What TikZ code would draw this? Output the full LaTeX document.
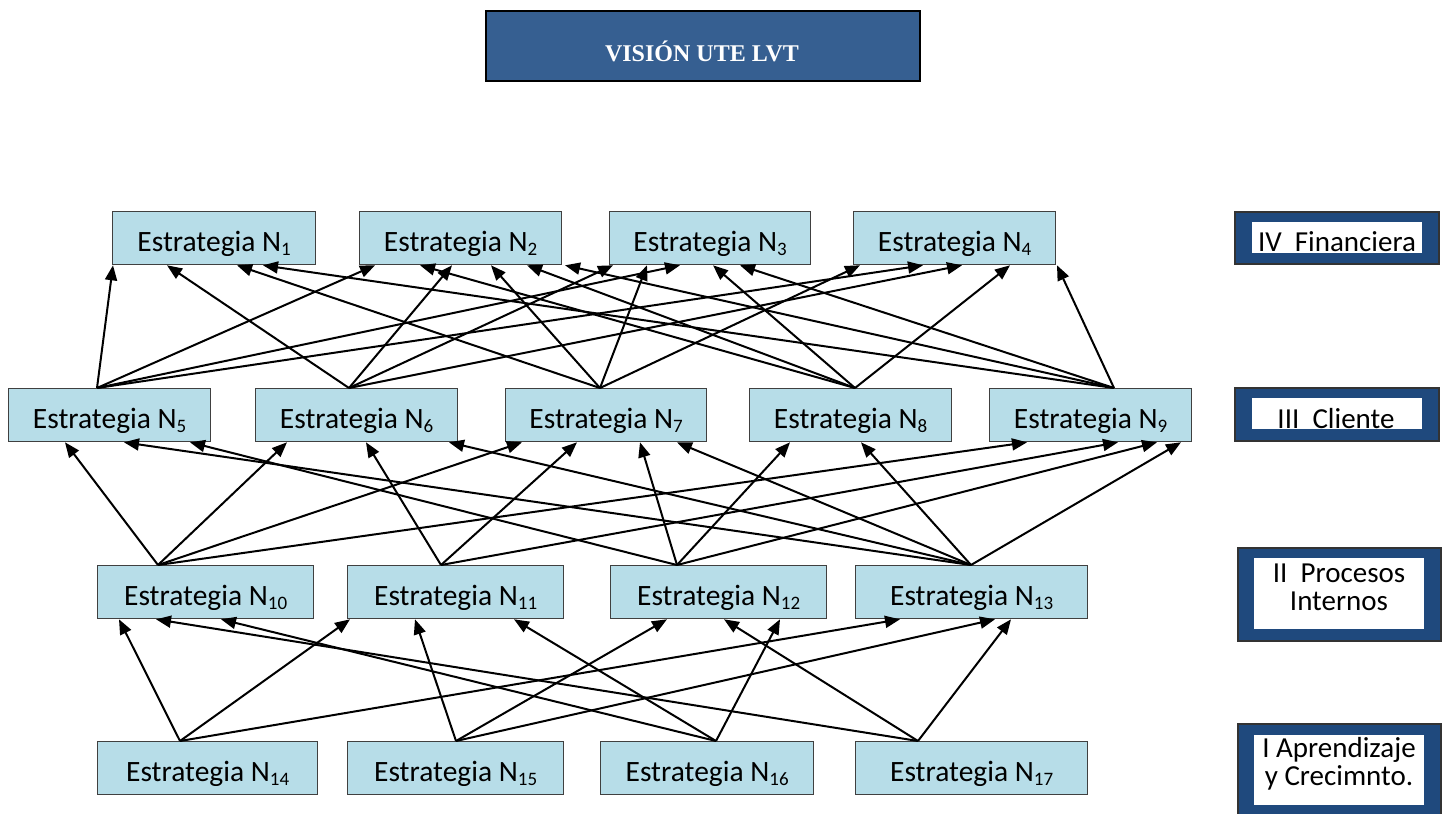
\documentclass[tikz,border=0pt]{standalone}
\usepackage{fontspec}
\setmainfont{Carlito}
\newfontfamily\titlefont{Liberation Serif}
\usetikzlibrary{arrows.meta}
\definecolor{boxblue}{HTML}{B7DDE8}
\definecolor{titleblue}{HTML}{365F91}
\definecolor{legblue}{HTML}{1F497D}
\newcommand\subn[1]{\raisebox{-4.5pt}{\fontsize{19}{19}\selectfont #1}}
% name, left, top, width, number
\newcommand\estbox[5]{%
  \node[sbox, minimum width=#4pt] (#1) at (#2,#3) {};
  \begin{scope}
    \clip ([yshift=10pt]#1.south west) rectangle (#1.north east);
    \node[stext] (#1t) at ([yshift=14pt]#1.south) {Estrategia N\subn{#5}};
  \end{scope}}
\newcommand\lnk[4]{\draw[arr] ([xshift=#2pt]#1.north west) -- ([xshift=#4pt]#3.south west);}
\tikzset{
  sbox/.style={draw=black!75, line width=1.3pt, fill=boxblue, inner sep=0pt, anchor=north west, minimum height=53pt},
  stext/.style={anchor=base, inner sep=0pt, font=\fontsize{29.5}{29.5}\selectfont},
  arr/.style={line width=2pt, -{Triangle[length=15pt,width=12pt]}},
  legout/.style={draw=black!80, line width=1.5pt, fill=legblue, inner sep=0pt, anchor=north west},
  legin/.style={fill=white, inner sep=0pt, anchor=north west},
  legtext/.style={anchor=base, inner sep=0pt, font=\fontsize{29}{29}\selectfont},
}
\begin{document}
\begin{tikzpicture}[x=1pt,y=-1pt]
\useasboundingbox (0,0) rectangle (1444,814);
\clip (0,0) rectangle (1444,814);
\fill[white] (0,0) rectangle (1444,814);
% title
\node[draw=black, line width=1.5pt, fill=titleblue, inner sep=0pt, anchor=north west,
      minimum width=434pt, minimum height=70pt] (title) at (485,10) {};
\node[anchor=base, inner sep=0pt, text=white, font=\titlefont\bfseries\fontsize{24}{24}\selectfont]
      (titlet) at (702,61) {VISIÓN UTE LVT};
% row 1
\estbox{n1}{112}{211}{203}{1}
\estbox{n2}{359}{211}{202}{2}
\estbox{n3}{609}{211}{201}{3}
\estbox{n4}{853}{211}{202}{4}
% row 2
\estbox{n5}{8}{388}{202}{5}
\estbox{n6}{255}{388}{202}{6}
\estbox{n7}{505}{388}{201}{7}
\estbox{n8}{749}{388}{202}{8}
\estbox{n9}{989}{388}{202}{9}
% row 3
\estbox{n10}{97}{565}{216}{10}
\estbox{n11}{347}{565}{216}{11}
\estbox{n12}{610}{565}{216}{12}
\estbox{n13}{855}{565}{232}{13}
% row 4
\estbox{n14}{97}{741}{220}{14}
\estbox{n15}{347}{741}{216}{15}
\estbox{n16}{600}{741}{213}{16}
\estbox{n17}{855}{741}{232}{17}
% legend
\node[legout, minimum width=204pt, minimum height=52pt] (lg4) at (1234,211) {};
\node[legin, minimum width=170pt, minimum height=31pt] (lg4i) at (1252,222) {};
\node[legtext] (lg4t) at (1337,251) {IV\ \ Financiera};
\node[legout, minimum width=204pt, minimum height=53pt] (lg3) at (1234,387) {};
\node[legin, minimum width=170pt, minimum height=31pt] (lg3i) at (1252,398) {};
\node[legtext] (lg3t) at (1336,428) {III\ \ Cliente};
\node[legout, minimum width=203pt, minimum height=93pt] (lg2) at (1237,547) {};
\node[legin, minimum width=170pt, minimum height=71pt] (lg2i) at (1254,558) {};
\node[legtext] (lg2a) at (1339,582) {II\ \ Procesos};
\node[legtext] (lg2b) at (1339,610) {Internos};
\node[legout, minimum width=203pt, minimum height=110pt] (lg1) at (1237,723) {};
\node[legin, minimum width=170pt, minimum height=70pt] (lg1i) at (1254,735) {};
\node[legtext] (lg1a) at (1339,757) {I Aprendizaje};
\node[legtext] (lg1b) at (1339,785) {y Crecimnto.};
% row 2 -> row 1
\lnk{n5}{89}{n1}{1}
\lnk{n5}{89}{n2}{16}
\lnk{n5}{89}{n3}{71}
\lnk{n5}{89}{n4}{70}
\lnk{n6}{94}{n1}{55}
\lnk{n6}{94}{n2}{93}
\lnk{n6}{94}{n3}{4}
\lnk{n6}{94}{n4}{109}
\lnk{n7}{95}{n1}{125}
\lnk{n7}{95}{n2}{132}
\lnk{n7}{95}{n3}{38}
\lnk{n7}{95}{n4}{7}
\lnk{n8}{106}{n2}{61}
\lnk{n8}{106}{n2}{168}
\lnk{n8}{106}{n3}{104}
\lnk{n8}{106}{n4}{157}
\lnk{n9}{125}{n1}{151}
\lnk{n9}{125}{n2}{206}
\lnk{n9}{125}{n3}{131}
\lnk{n9}{125}{n4}{204}
% row 3 -> row 2
\lnk{n10}{61}{n5}{57}
\lnk{n10}{61}{n6}{32}
\lnk{n10}{61}{n7}{17}
\lnk{n10}{61}{n9}{38}
\lnk{n11}{94}{n6}{111}
\lnk{n11}{94}{n7}{72}
\lnk{n11}{94}{n9}{129}
\lnk{n12}{67}{n5}{182}
\lnk{n12}{67}{n7}{135}
\lnk{n12}{67}{n8}{41}
\lnk{n12}{67}{n9}{168}
\lnk{n13}{116}{n5}{116}
\lnk{n13}{116}{n6}{194}
\lnk{n13}{116}{n7}{172}
\lnk{n13}{116}{n8}{112}
\lnk{n13}{116}{n9}{192}
% row 4 -> row 3
\lnk{n14}{83}{n10}{22}
\lnk{n14}{83}{n11}{3}
\lnk{n14}{83}{n13}{45}
\lnk{n15}{109}{n11}{68}
\lnk{n15}{109}{n12}{57}
\lnk{n15}{109}{n13}{140}
\lnk{n16}{116}{n10}{124}
\lnk{n16}{116}{n11}{167}
\lnk{n16}{116}{n12}{170}
\lnk{n17}{63}{n10}{59}
\lnk{n17}{63}{n12}{114}
\lnk{n17}{63}{n13}{156}
\end{tikzpicture}
\end{document}
